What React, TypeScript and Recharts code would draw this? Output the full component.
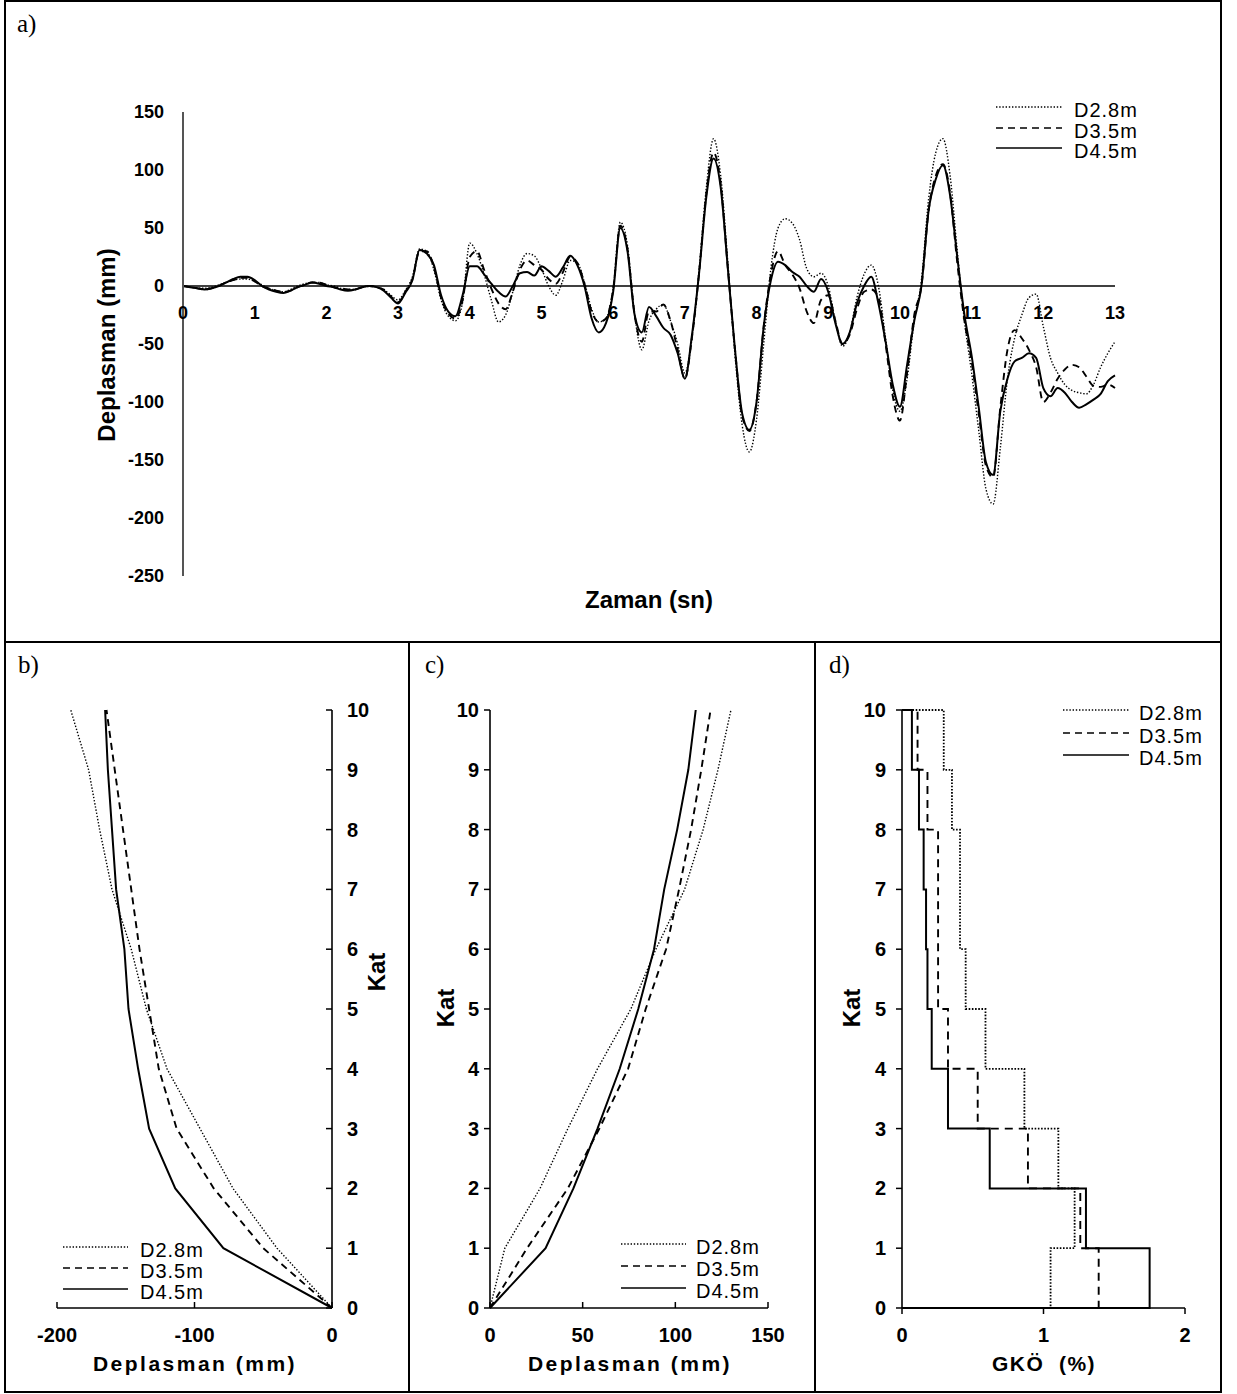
import React from "react"
import { LineChart, Line, XAxis, YAxis, ReferenceLine, ReferenceDot } from "recharts"

const FONT = "'Liberation Sans', Arial, Helvetica, sans-serif"
const SERIF = "'Liberation Serif', 'Times New Roman', serif"

// a) roof displacement time history, sampled every 0.1 s from 0 to 13 s
const D28_TH = [
  0, -1, -2, -2, -1, 1, 3, 5, 6, 6,
  4, 1, -2, -4, -5, -3, 0, 2, 3, 3,
  1, 0, -2, -3, -3, -1, 0, -1, -3, -8,
  -12, -4, 8, 32, 30, 14, -12, -26, -30, -14,
  37, 28, 10, -12, -31, -25, -5, 18, 28, 26,
  15, 0, -8, 5, 22, 20, 3, -20, -31, -28,
  -2, 55, 35, -25, -55, -30, -20, -16, -30, -50,
  -75, -45, 15, 85, 127, 95, 20, -60, -120, -143,
  -115, -50, 15, 50, 58, 54, 40, 15, 8, 11,
  0, -30, -52, -40, -10, 10, 18, 0, -45, -90,
  -108, -80, -30, 5, 75, 115, 127, 95, 30, -30,
  -75, -125, -175, -188, -140, -80, -45, -25, -10, -7,
  -35, -62, -75, -85, -90, -92, -93, -85, -70, -58,
  -48,
]
const D35_TH = [
  0, -1, -2, -3, -2, 0, 3, 5, 7, 7,
  4, 0, -2, -4, -5, -4, -1, 1, 3, 3,
  1, -1, -2, -3, -3, -1, 0, -1, -3, -9,
  -14, -5, 6, 30, 30, 16, -10, -24, -28, -12,
  25, 30, 14, -2, -15, -20, -5, 14, 22, 18,
  14, 6, 2, 12, 25, 20, 2, -22, -31, -28,
  -3, 52, 32, -25, -48, -22, -22, -16, -30, -55,
  -80, -44, 12, 80, 115, 88, 15, -55, -112, -125,
  -100, -35, 10, 30, 18, 10, -2, -22, -32, -12,
  -8, -30, -50, -42, -20, -5, -3, -10, -50, -95,
  -116, -75, -25, 0, 65, 95, 105, 80, 20, -30,
  -65, -110, -155, -165, -105, -55, -38, -45, -55, -70,
  -100, -92, -80, -72, -68, -70, -78, -86, -87, -85,
  -88,
]
const D45_TH = [
  0, -1, -2, -3, -2, 0, 3, 6, 8, 8,
  5, 0, -3, -5, -6, -4, -1, 1, 3, 2,
  0, -1, -3, -4, -3, -1, 0, -1, -4, -10,
  -15, -6, 5, 31, 28, 18, -8, -22, -26, -8,
  17, 17, 10, 2, -5, -9, 0, 11, 12, 9,
  17, 13, 8, 16, 26, 18, 0, -28, -40, -32,
  -5, 50, 30, -25, -40, -18, -26, -36, -42, -58,
  -80, -42, 12, 77, 110, 85, 15, -55, -110, -124,
  -100, -35, 5, 21, 18, 12, 8, 0, -5, 6,
  -5, -32, -50, -40, -15, 0, 8, -15, -48, -85,
  -104, -68, -30, 0, 65, 92, 104, 78, 25, -25,
  -60, -105, -152, -163, -108, -80, -65, -62, -58, -62,
  -88, -95, -88, -92, -100, -105, -102, -98, -93, -82,
  -77,
]
const TIME = D45_TH.map((_, i) => i / 10)
const TIME_TICKS = [0, 1, 2, 3, 4, 5, 6, 7, 8, 9, 10, 11, 12, 13]
const DISP_TICKS = [-250, -200, -150, -100, -50, 0, 50, 100, 150]

// b) minimum floor displacements (mm)
const FLOORS = [0, 1, 2, 3, 4, 5, 6, 7, 8, 9, 10]
const MIN_D28 = [0, -40, -72, -96, -120, -135, -146, -160, -169, -177, -190]
const MIN_D35 = [0, -50, -86, -113, -126, -133, -140, -146, -152, -158, -164]
const MIN_D45 = [0, -79, -114, -133, -141, -148, -151, -157, -160, -163, -165]

// c) maximum floor displacements (mm)
const MAX_D28 = [0, 8, 27, 42, 58, 76, 89.5, 105, 115, 123, 130]
const MAX_D35 = [0, 20, 42, 59, 74.5, 84, 95, 102, 108.5, 114, 119]
const MAX_D45 = [0, 30, 45, 58, 70, 80, 88.5, 94, 101, 107, 111]

// d) interstory drift ratio (%) of stories 1..10
const GKO_D28 = [1.05, 1.22, 1.105, 0.865, 0.59, 0.45, 0.41, 0.41, 0.353, 0.295]
const GKO_D35 = [1.39, 1.26, 0.89, 0.535, 0.325, 0.255, 0.255, 0.255, 0.18, 0.11]
const GKO_D45 = [1.75, 1.3, 0.62, 0.325, 0.21, 0.18, 0.17, 0.153, 0.12, 0.07]

const SERIES = [
  { key: "d28", name: "D2.8m", dash: "1.4 1.8", width: 1.4 },
  { key: "d35", name: "D3.5m", dash: "7 5", width: 1.9 },
  { key: "d45", name: "D4.5m", dash: undefined, width: 2 },
]

const timeRows = TIME.map((t, i) => ({ t, d28: D28_TH[i], d35: D35_TH[i], d45: D45_TH[i] }))
const profile = (vals: number[]) => FLOORS.map((f, i) => ({ x: vals[i], floor: f }))
const steps = (vals: number[]) => [
  { x: 0, floor: 0 },
  ...vals.map((v, i) => ({ x: v, floor: i + 1 })),
  { x: 0, floor: 10 },
]

const bold = { fontFamily: FONT, fontWeight: 700, fill: "#000" }
const axisLine = { stroke: "#000", strokeWidth: 1.6 }

const leftTickA = (props: any) => (
  <text x={props.x} y={props.y} dy="0.35em" textAnchor="end" fontSize={18} {...bold}>
    {props.payload.value}
  </text>
)

const bottomTick = (dir: number) => (props: any) => (
  <g>
    <line x1={props.x} x2={props.x} y1={props.y} y2={props.y + dir * 6} stroke="#000" strokeWidth={1.5} />
    <text x={props.x} y={props.y + 27} dy="0.35em" textAnchor="middle" fontSize={20} {...bold}>
      {props.payload.value}
    </text>
  </g>
)

const leftTick = (gap: number) => (props: any) => (
  <g>
    <line x1={props.x - 6} x2={props.x} y1={props.y} y2={props.y} stroke="#000" strokeWidth={1.5} />
    <text x={props.x - gap} y={props.y} dy="0.35em" textAnchor="end" fontSize={20} {...bold}>
      {props.payload.value}
    </text>
  </g>
)

const rightTickInside = (props: any) => (
  <g>
    <line x1={props.x - 6} x2={props.x} y1={props.y} y2={props.y} stroke="#000" strokeWidth={1.5} />
    <text x={props.x + 15} y={props.y} dy="0.35em" textAnchor="start" fontSize={20} {...bold}>
      {props.payload.value}
    </text>
  </g>
)

function Legend({ x, textX, ys, len, size = 20 }: { x: number; textX: number; ys: number[]; len: number; size?: number }) {
  return (
    <>
      {SERIES.map((s, i) => (
        <React.Fragment key={s.key}>
          <svg style={{ position: "absolute", left: x, top: ys[i] - 3 }} width={len} height={6}>
            <line x1={0} x2={len} y1={3} y2={3} stroke="#000" strokeWidth={1.5} strokeDasharray={s.dash} />
          </svg>
          <div
            style={{
              position: "absolute",
              left: textX,
              top: ys[i] - 9,
              height: 24,
              lineHeight: "24px",
              fontFamily: FONT,
              fontSize: size,
              letterSpacing: 1,
              whiteSpace: "nowrap",
            }}
          >
            {s.name}
          </div>
        </React.Fragment>
      ))}
    </>
  )
}

function Title({ x, y, text, size = 22, rotate = false, spacing = 0 }: { x: number; y: number; text: string; size?: number; rotate?: boolean; spacing?: number }) {
  return (
    <div
      style={{
        position: "absolute",
        left: x,
        top: y,
        transform: `translate(-50%, -50%)${rotate ? " rotate(-90deg)" : ""}`,
        fontFamily: FONT,
        fontWeight: 700,
        fontSize: size,
        letterSpacing: spacing,
        whiteSpace: "pre",
        lineHeight: 1,
      }}
    >
      {text}
    </div>
  )
}

function PanelLetter({ x, y, text }: { x: number; y: number; text: string }) {
  return (
    <div style={{ position: "absolute", left: x, top: y, fontFamily: SERIF, fontSize: 25, lineHeight: 1 }}>{text}</div>
  )
}

const line = (s: (typeof SERIES)[number], dataKey: string, extra: any = {}) => (
  <Line
    key={s.key}
    dataKey={dataKey}
    stroke="#000"
    strokeWidth={s.width}
    strokeDasharray={s.dash}
    dot={false}
    activeDot={false}
    isAnimationActive={false}
    {...extra}
  />
)

export default function App() {
  const box = { position: "absolute" as const }
  return (
    <div style={{ position: "absolute", left: 0, top: 0, width: 1237, height: 1394, background: "#fff", overflow: "hidden" }}>
      {/* frame */}
      <div style={{ ...box, left: 4, top: 0, width: 1218, height: 1393, border: "2px solid #000", boxSizing: "border-box" }} />
      <div style={{ ...box, left: 4, top: 641, width: 1218, height: 2, background: "#000" }} />
      <div style={{ ...box, left: 408, top: 641, width: 2, height: 752, background: "#000" }} />
      <div style={{ ...box, left: 814, top: 641, width: 2, height: 752, background: "#000" }} />

      <PanelLetter x={17} y={11} text="a)" />
      <PanelLetter x={18} y={652} text="b)" />
      <PanelLetter x={425} y={652} text="c)" />
      <PanelLetter x={829} y={652} text="d)" />

      {/* a) time history */}
      <div style={{ ...box, left: 0, top: 0 }}>
        <LineChart width={1237} height={640} data={timeRows} margin={{ top: 112, right: 122, bottom: 64, left: 123 }}>
          <XAxis hide type="number" dataKey="t" domain={[0, 13]} />
          <YAxis
            type="number"
            width={60}
            domain={[-250, 150]}
            ticks={DISP_TICKS}
            interval={0}
            axisLine={{ stroke: "#555", strokeWidth: 2 }}
            tickLine={false}
            tickSize={0}
            tickMargin={19}
            tick={leftTickA}
          />
          <ReferenceLine y={0} stroke="#000" strokeWidth={1.6} />
          {TIME_TICKS.map((t) => (
            <ReferenceDot
              key={t}
              x={t}
              y={0}
              r={0}
              fill="none"
              stroke="none"
              label={{ value: String(t), position: "bottom", offset: 20, fontSize: 18, fontWeight: 700, fill: "#000", fontFamily: FONT }}
            />
          ))}
          {SERIES.map((s) => line(s, s.key, { type: "monotone" }))}
        </LineChart>
      </div>
      <Title x={107} y={345} text="Deplasman (mm)" size={24} rotate />
      <Title x={649} y={600} text="Zaman (sn)" size={24} />
      <Legend x={996} textX={1074} ys={[107, 128, 148]} len={66} />

      {/* b) minimum displacement profile */}
      <div style={{ ...box, left: 5, top: 642 }}>
        <LineChart width={405} height={750} margin={{ top: 68, right: 28, bottom: 54, left: 52 }}>
          <XAxis
            type="number"
            dataKey="x"
            domain={[-200, 0]}
            ticks={[-200, -100, 0]}
            interval={0}
            height={30}
            axisLine={axisLine}
            tickLine={false}
            tickSize={0}
            tickMargin={0}
            tick={bottomTick(-1)}
          />
          <YAxis
            type="number"
            orientation="right"
            width={50}
            domain={[0, 10]}
            ticks={FLOORS}
            interval={0}
            axisLine={axisLine}
            tickLine={false}
            tickSize={0}
            tickMargin={0}
            tick={rightTickInside}
          />
          {line(SERIES[0], "floor", { data: profile(MIN_D28), type: "linear" })}
          {line(SERIES[1], "floor", { data: profile(MIN_D35), type: "linear" })}
          {line(SERIES[2], "floor", { data: profile(MIN_D45), type: "linear" })}
        </LineChart>
      </div>
      <Title x={377} y={972} text="Kat" size={24} rotate />
      <Title x={195} y={1363} text="Deplasman (mm)" size={21} spacing={2.5} />
      <Legend x={63} textX={140} ys={[1247, 1268, 1289]} len={65} />

      {/* c) maximum displacement profile */}
      <div style={{ ...box, left: 410, top: 642 }}>
        <LineChart width={405} height={750} margin={{ top: 68, right: 47, bottom: 54, left: 20 }}>
          <XAxis
            type="number"
            dataKey="x"
            domain={[0, 150]}
            ticks={[0, 50, 100, 150]}
            interval={0}
            height={30}
            axisLine={axisLine}
            tickLine={false}
            tickSize={0}
            tickMargin={0}
            tick={bottomTick(-1)}
          />
          <YAxis
            type="number"
            width={60}
            domain={[0, 10]}
            ticks={FLOORS}
            interval={0}
            axisLine={axisLine}
            tickLine={false}
            tickSize={0}
            tickMargin={0}
            tick={leftTick(11)}
          />
          {line(SERIES[0], "floor", { data: profile(MAX_D28), type: "linear" })}
          {line(SERIES[1], "floor", { data: profile(MAX_D35), type: "linear" })}
          {line(SERIES[2], "floor", { data: profile(MAX_D45), type: "linear" })}
        </LineChart>
      </div>
      <Title x={446} y={1008} text="Kat" size={24} rotate />
      <Title x={630} y={1363} text="Deplasman (mm)" size={21} spacing={2.5} />
      <Legend x={621} textX={696} ys={[1244, 1266, 1288]} len={65} />

      {/* d) interstory drift */}
      <div style={{ ...box, left: 816, top: 642 }}>
        <LineChart width={421} height={750} margin={{ top: 68, right: 52, bottom: 54, left: 26 }}>
          <XAxis
            type="number"
            dataKey="x"
            domain={[0, 2]}
            ticks={[0, 1, 2]}
            interval={0}
            height={30}
            axisLine={axisLine}
            tickLine={false}
            tickSize={0}
            tickMargin={0}
            tick={bottomTick(1)}
          />
          <YAxis
            type="number"
            width={60}
            domain={[0, 10]}
            ticks={FLOORS}
            interval={0}
            axisLine={axisLine}
            tickLine={false}
            tickSize={0}
            tickMargin={0}
            tick={leftTick(16)}
          />
          {line(SERIES[0], "floor", { data: steps(GKO_D28), type: "stepAfter", strokeWidth: 1.8, strokeDasharray: "1.6 1.6" })}
          {line(SERIES[1], "floor", { data: steps(GKO_D35), type: "stepAfter", strokeDasharray: "8 6" })}
          {line(SERIES[2], "floor", { data: steps(GKO_D45), type: "stepAfter" })}
        </LineChart>
      </div>
      <Title x={852} y={1008} text="Kat" size={24} rotate />
      <Title x={1044} y={1363} text="GKÖ  (%)" size={21} spacing={1.5} />
      <Legend x={1063} textX={1139} ys={[710, 733, 755]} len={66} />
    </div>
  )
}
